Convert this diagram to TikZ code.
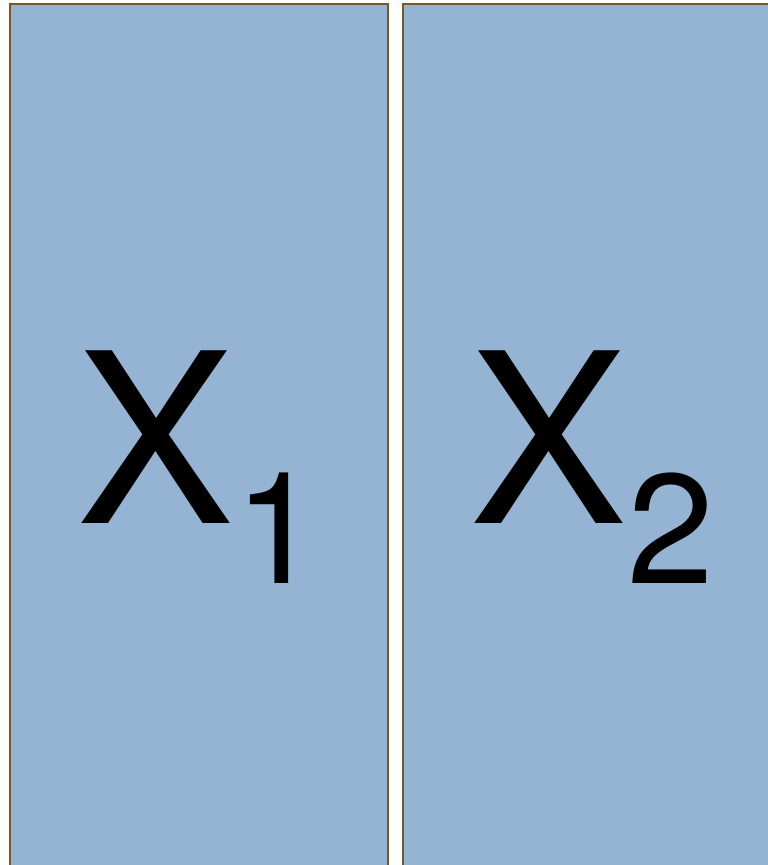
\documentclass[tikz,border=0pt]{standalone}
\usepackage{fontspec}
\setmainfont{TeX Gyre Heros}
\definecolor{colblue}{RGB}{149,180,211}
\definecolor{colbrown}{RGB}{120,88,38}
\usetikzlibrary{positioning}

\begin{document}
\begin{tikzpicture}[x=1pt,y=-1pt,
  colpanel/.style={draw=colbrown,fill=colblue,line width=2pt,minimum width=378pt,
    minimum height=926pt,inner sep=0pt,font=\fontsize{237}{237}\selectfont}
]
  \useasboundingbox (0,0) rectangle (768,865);
  \clip (0,0) rectangle (768,865);
  \node[colpanel] (xone) at (199,467) {X\raisebox{-60pt}{\fontsize{156}{156}\selectfont 1}};
  \node[colpanel] (xtwo) at (592,467) {X\raisebox{-60pt}{\fontsize{156}{156}\selectfont 2}};
\end{tikzpicture}
\end{document}
